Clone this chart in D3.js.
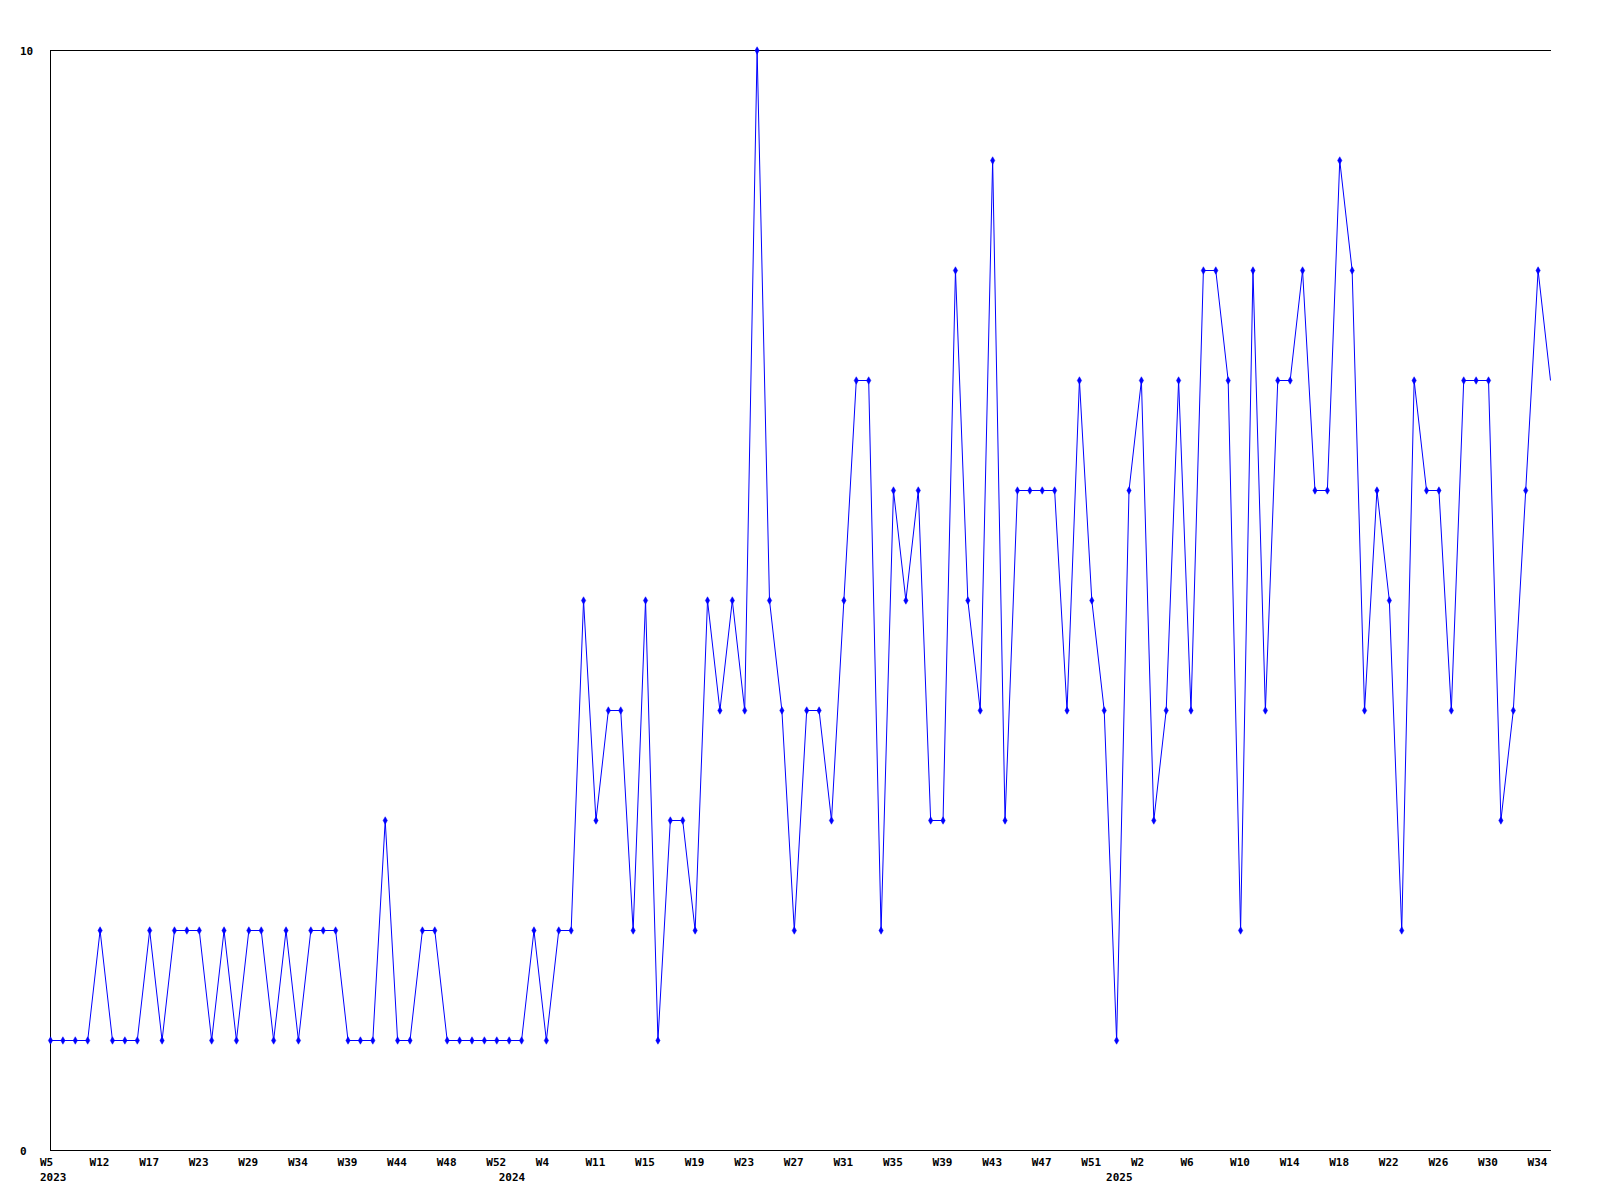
<!DOCTYPE html>
<html>
<head>
<meta charset="utf-8">
<script src="https://cdn.jsdelivr.net/npm/d3@7/dist/d3.min.js"></script>
<style>
  html, body { margin: 0; padding: 0; background: #fff; }
  svg { display: block; }
  text { font-family: "DejaVu Sans Mono", "Liberation Mono", monospace; font-weight: bold; font-size: 11px; fill: #000; }
</style>
</head>
<body>
<svg id="chart" width="1600" height="1200"></svg>
<script>
// Weekly values (one point per reported week)
const values = [
  1,1,1,1,2,1,1,1,2,1,
  2,2,2,1,2,1,2,2,1,2,
  1,2,2,2,1,1,1,3,1,1,
  2,2,1,1,1,1,1,1,1,2,
  1,2,2,5,3,4,4,2,5,1,
  3,3,2,5,4,5,4,10,5,4,
  2,4,4,3,5,7,7,2,6,5,
  6,3,3,8,5,4,9,3,6,6,
  6,6,4,7,5,4,1,6,7,3,
  4,7,4,8,8,7,2,8,4,7,
  7,8,6,6,9,8,4,6,5,2,
  7,6,6,4,7,7,7,3,4,6,
  8,7
];
// Tick labels shown every 4th point
const tickLabels = ["W5","W12","W17","W23","W29","W34","W39","W44","W48","W52",
  "W4","W11","W15","W19","W23","W27","W31","W35","W39","W43","W47","W51",
  "W2","W6","W10","W14","W18","W22","W26","W30","W34"];
const tickEvery = 4;
// Year labels and the point index they start at
const years = ["2023","2024","2025"];
const yearStartIndex = [0, 37, 86];
const yTicks = [0, 10];

(function () {
const svg = d3.select("#chart");
const pL = 50, pR = 1550, pT = 50, pB = 1150, frameR = 1551;

const x = d3.scaleLinear().domain([0, values.length - 1]).range([pL, pR]);
const y = d3.scaleLinear().domain([0, 10]).range([pB, pT]);

// axes / frame
svg.append("line").attr("x1", pL + 0.5).attr("x2", pL + 0.5).attr("y1", pT).attr("y2", pB + 0.5)
  .attr("stroke", "#000").attr("stroke-width", 1);
svg.append("line").attr("x1", pL).attr("x2", frameR).attr("y1", pB + 0.5).attr("y2", pB + 0.5)
  .attr("stroke", "#000").attr("stroke-width", 1);
svg.append("line").attr("x1", pL).attr("x2", frameR).attr("y1", pT + 0.5).attr("y2", pT + 0.5)
  .attr("stroke", "#000").attr("stroke-width", 1);

// y labels
svg.selectAll("text.ylab").data(yTicks).enter().append("text")
  .attr("class", "ylab")
  .attr("x", 20)
  .attr("y", d => y(d) + 4.5)
  .attr("text-anchor", "start")
  .text(d => d);

// x tick labels
svg.selectAll("text.xlab").data(tickLabels).enter().append("text")
  .attr("class", "xlab")
  .attr("x", (d, i) => x(i * tickEvery) - 10)
  .attr("y", 1166)
  .attr("text-anchor", "start")
  .text(d => d);

// year labels
svg.selectAll("text.yearlab").data(years).enter().append("text")
  .attr("class", "yearlab")
  .attr("x", (d, i) => x(yearStartIndex[i]) - 10)
  .attr("y", 1181)
  .attr("text-anchor", "start")
  .text(d => d);

// line
const line = d3.line().x((d, i) => x(i) + 0.5).y(d => y(d) + 0.5);
svg.append("path").datum(values)
  .attr("d", line)
  .attr("fill", "none")
  .attr("stroke", "#0000ff")
  .attr("stroke-width", 1);

// markers (diamonds)
const diamond = d3.symbol().type(d3.symbolDiamond).size(16);
svg.selectAll("path.mk").data(values.slice(0, values.length - 1)).enter().append("path")
  .attr("class", "mk")
  .attr("d", diamond)
  .attr("transform", (d, i) => `translate(${x(i) + 0.5},${y(d) + 0.5})`)
  .attr("fill", "#0000ff")
  .attr("stroke", "#0000ff")
  .attr("stroke-width", 0.5);
})();
</script>
</body>
</html>
